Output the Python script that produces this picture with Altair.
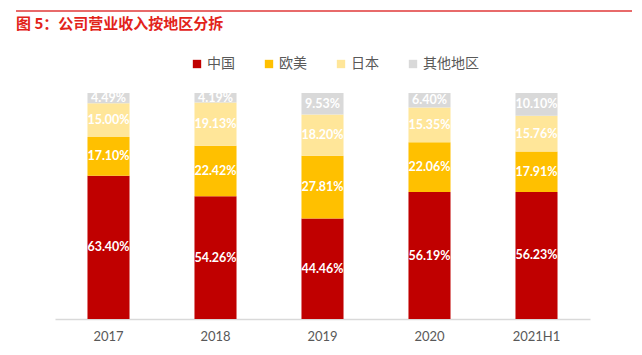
import altair as alt
import pandas as pd

years = ["2017", "2018", "2019", "2020", "2021H1"]
regions = ["中国", "欧美", "日本", "其他地区"]
china = [63.40, 54.26, 44.46, 56.19, 56.23]
euam = [17.10, 22.42, 27.81, 22.06, 17.91]
japan = [15.00, 19.13, 18.20, 15.35, 15.76]
other = [4.49, 4.19, 9.53, 6.40, 10.10]
colors = ["#C00000", "#FFC000", "#FFE699", "#D9D9D9"]
title_text = "图 5：公司营业收入按地区分拆"

rows = []
for i, y in enumerate(years):
    for k, (r, vals) in enumerate(zip(regions, [china, euam, japan, other])):
        rows.append({"year": y, "region": r, "value": vals[i], "order": k,
                     "label": f"{vals[i]:.2f}%"})
df = pd.DataFrame(rows)

base = alt.Chart(df).transform_stack(
    stack="value", as_=["y0", "y1"], groupby=["year"], sort=[alt.SortField("order")]
).transform_calculate(mid="(datum.y0 + datum.y1) / 2")

xenc = alt.X("year:N", sort=years, title=None,
             scale=alt.Scale(paddingInner=0.607, paddingOuter=0.3035),
             axis=alt.Axis(labelAngle=0, ticks=False, domainColor="#D9D9D9", domainWidth=1.5,
                           labelColor="#595959", labelFont="Lato", labelFontSize=13,
                           labelPadding=11, grid=False))
yscale = alt.Scale(domain=[0, 100], nice=False, zero=True)

bars = base.mark_bar().encode(
    x=xenc,
    y=alt.Y("y1:Q", scale=yscale, axis=None),
    y2="y0:Q",
    color=alt.Color("region:N", sort=regions,
                    scale=alt.Scale(domain=regions, range=colors),
                    legend=alt.Legend(title=None, orient="none", direction="horizontal",
                                      columns=4, legendX=135, legendY=-36,
                                      symbolType="square", symbolSize=70, symbolStrokeWidth=0,
                                      labelFont="Noto Sans CJK SC", labelFontSize=14,
                                      labelColor="#595959", labelOffset=3,
                                      columnPadding=27, padding=0)),
)

labels = base.mark_text(color="white", font="Lato", fontWeight="bold", fontSize=12.5,
                        baseline="middle").encode(
    x=alt.X("year:N", sort=years),
    y=alt.Y("mid:Q", scale=yscale),
    text="label:N",
)

title_df = pd.DataFrame({"t": [title_text]})
title = alt.Chart(title_df).mark_text(
    align="left", baseline="middle", color="#E2231A", font="Noto Sans CJK SC",
    fontWeight="bold", fontSize=15
).encode(x=alt.value(-39), y=alt.value(-69), text="t:N")

redline = alt.Chart(title_df).mark_rule(color="#E86A6A", strokeWidth=2).encode(
    x=alt.value(-39), x2=alt.value(577), y=alt.value(-82)
)

chart = alt.layer(bars, labels, title, redline).properties(
    width=535, height=226,
    padding={"left": 47, "top": 85, "right": 44, "bottom": 28},
    autosize=alt.AutoSizeParams(type="none"),
).configure_view(stroke=None)

chart.save("out.html", embed_options={"renderer": "svg", "actions": False})
